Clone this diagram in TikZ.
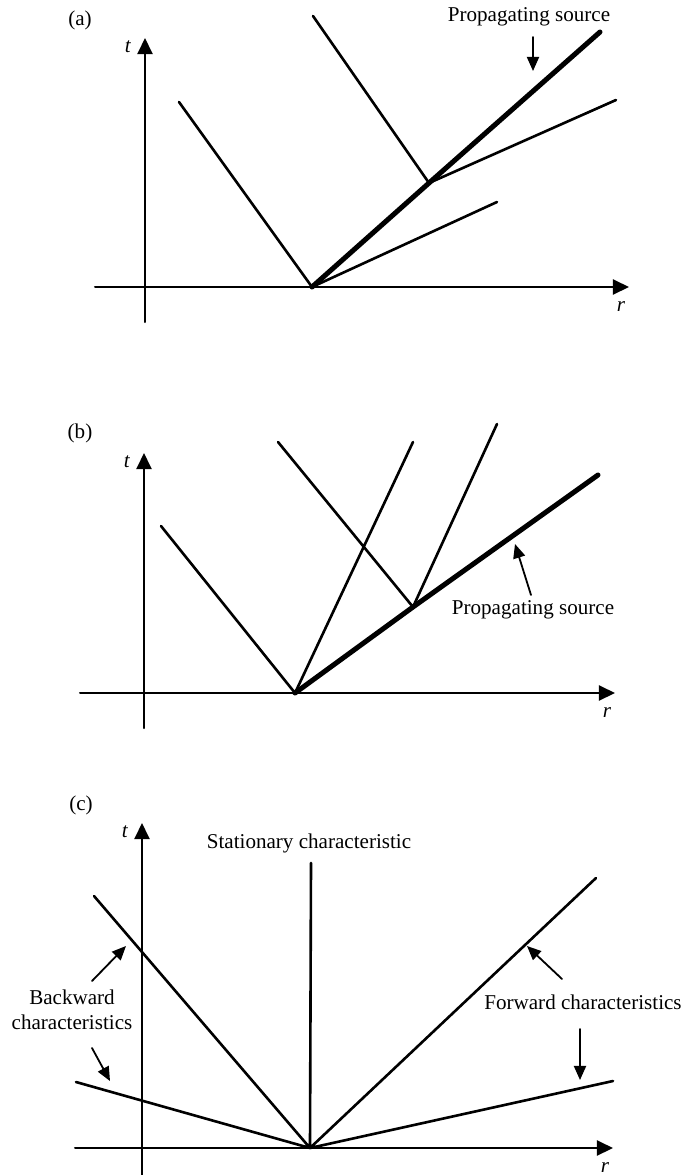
\documentclass[tikz,border=0pt]{standalone}
\usepackage{fontspec}
\setmainfont{Liberation Serif}
\usetikzlibrary{arrows.meta}
\begin{document}
\begin{tikzpicture}[x=0.0175cm,y=-0.0175cm,>={Triangle[length=8pt,width=7.5pt]},
	font=\fontsize{10.5}{12.5}\selectfont, line join=round, line cap=round,
	axis/.style={line width=1pt},
	chr/.style={line width=1.3pt},
	src/.style={line width=2.5pt},
	ptr/.style={line width=0.9pt,-{Triangle[length=7pt,width=6pt]}}]
	\useasboundingbox (0,0) rectangle (683,1175);
	% axes of the three panels
	\foreach \n/\tx/\ttop/\tbot/\ry/\rl/\rr in {a/145/38/322/287/95/629,b/144/453/728/693/80/615,c/142/823/1175/1148/75/613}{
		\coordinate (tb\n) at (\tx,\tbot); \coordinate (tt\n) at (\tx,\ttop);
		\coordinate (rl\n) at (\rl,\ry); \coordinate (rr\n) at (\rr,\ry);
		\draw[axis,->] (tb\n)--(tt\n);
		\draw[axis,->] (rl\n)--(rr\n);
		\node (tlab\n) at (\tx-17,\ttop+9) {\textit{t}};
		\node (rlab\n) at (\rr-8,\ry+20) {\textit{r}};
	}
	\node (pa) at (80,20) {(a)};
	\node (pb) at (80,433) {(b)};
	\node (pc) at (81,805) {(c)};
	% (a)
	\coordinate (Oa) at (312,287); \coordinate (Ka) at (429,183);
	\coordinate (a1) at (179,102); \coordinate (a2) at (313,16);
	\coordinate (a3) at (600,32); \coordinate (a4) at (616,100);
	\coordinate (a5) at (497,202);
	\draw[chr] (a1)--(Oa)--(a5) (a2)--(Ka)--(a4);
	\draw[src] (Oa)--(Ka)--(a3);
	\node (psa) at (529,17) {Propagating source};
	\coordinate (pa0) at (533,37); \coordinate (pa1) at (533,71);
	\draw[ptr] (pa0)--(pa1);
	% (b)
	\coordinate (Ob) at (295,693); \coordinate (Kb) at (413,607);
	\coordinate (b1) at (161,526); \coordinate (b2) at (278,442);
	\coordinate (b3) at (413,442); \coordinate (b4) at (497,424);
	\coordinate (b5) at (598,475);
	\draw[chr] (b1)--(Ob)--(b3) (b2)--(Kb)--(b4);
	\draw[src] (Ob)--(Kb)--(b5);
	\node (psb) at (533,610) {Propagating source};
	\coordinate (pb0) at (531,595); \coordinate (pb1) at (515,544);
	\draw[ptr] (pb0)--(pb1);
	% (c)
	\coordinate (Oc) at (310,1148);
	\coordinate (c1) at (311,863); \coordinate (c2) at (94,896);
	\coordinate (c3) at (76,1082); \coordinate (c4) at (596,878);
	\coordinate (c5) at (613,1081);
	\draw[chr] (Oc)--(c1) (Oc)--(c2) (Oc)--(c3) (Oc)--(c4) (Oc)--(c5);
	\node (stc) at (309,843) {Stationary characteristic};
	\node[align=center] (bwc) at (72,1010) {Backward\\characteristics};
	\node (fwc) at (583,1002) {Forward characteristics};
	\foreach \i/\sx/\sy/\ex/\ey in {1/92/981/126/946,2/92/1048/110/1081,3/562/979/527/946,4/580/1029/580/1080}{
		\coordinate (q\i) at (\sx,\sy); \coordinate (p\i) at (\ex,\ey);
		\draw[ptr] (q\i)--(p\i);
	}
\end{tikzpicture}
\end{document}
